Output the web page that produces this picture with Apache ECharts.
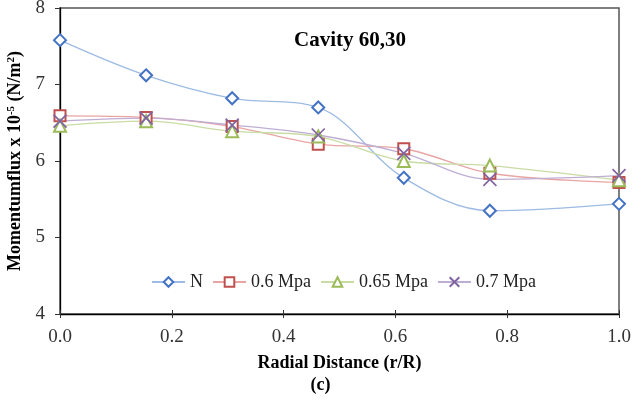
<!DOCTYPE html>
<html>
<head>
<meta charset="utf-8">
<script src="https://cdn.jsdelivr.net/npm/echarts@6/dist/echarts.min.js"></script>
<style>
  html, body { margin: 0; padding: 0; background: #fff; }
  #chart { width: 641px; height: 400px; }
</style>
</head>
<body>
<div id="chart"></div>
<script>
// radial positions r/R
const radial = [0, 0.154, 0.308, 0.462, 0.615, 0.769, 1.0]
const seriesNames = ['N', '0.6 Mpa', '0.65 Mpa', '0.7 Mpa']
const valuesN = [7.58, 7.12, 6.82, 6.70, 5.78, 5.35, 5.44]
const values06 = [6.59, 6.57, 6.45, 6.22, 6.16, 5.84, 5.72]
const values065 = [6.46, 6.52, 6.39, 6.32, 6.00, 5.94, 5.75]
const values07 = [6.52, 6.56, 6.47, 6.34, 6.10, 5.76, 5.81]

const pairs = vals => radial.map((r, i) => [r, vals[i]])
const font = '"Liberation Serif", "Times New Roman", serif'

const chart = echarts.init(document.getElementById('chart'))

const mkSeries = (name, vals, symbol, markColor, lineColor, size) => ({
  name,
  type: 'line',
  data: pairs(vals),
  smooth: 0.35,
  symbol,
  symbolSize: size,
  showAllSymbol: true,
  itemStyle: { color: markColor, borderColor: markColor, borderWidth: 1.7 },
  lineStyle: { color: lineColor, width: 1.3 },
  emphasis: { disabled: true }
})

const crossPath = 'path://M0,0L10,10M10,0L0,10'

chart.setOption({
  animation: false,
  title: {
    text: 'Cavity 60,30',
    left: 289,
    top: 25,
    textStyle: { fontFamily: font, fontSize: 21, fontWeight: 'bold', color: '#000' }
  },
  legend: {
    top: 268,
    left: 146,
    itemWidth: 33,
    itemHeight: 12,
    itemGap: 9,
    data: seriesNames,
    textStyle: { fontFamily: font, fontSize: 18, color: '#222' }
  },
  grid: {
    left: 60, right: 22, top: 8, bottom: 86,
    outerBoundsMode: 'none',
    containLabel: false,
    show: true, borderColor: '#555', borderWidth: 1.5
  },
  xAxis: [{
    type: 'value',
    min: 0, max: 1, interval: 0.2,
    name: 'Radial Distance (r/R)',
    nameLocation: 'middle',
    nameGap: 40,
    nameTextStyle: { fontFamily: font, fontSize: 18, fontWeight: 'bold', color: '#000' },
    axisLine: { show: true, lineStyle: { color: '#000', width: 1.3 } },
    axisTick: { show: true, length: 4, lineStyle: { color: '#333' } },
    axisLabel: { fontFamily: font, fontSize: 19, color: '#333', margin: 14, formatter: v => v.toFixed(1) },
    splitLine: { show: false }
  }, {
    type: 'value',
    position: 'bottom',
    min: 0, max: 1, interval: 0.2,
    axisLine: { show: false },
    axisTick: { show: true, inside: true, length: 4, lineStyle: { color: '#333' } },
    axisLabel: { show: false },
    splitLine: { show: false }
  }],
  yAxis: {
    type: 'value',
    min: 4, max: 8, interval: 1,
    name: '{b|Momentumflux x 10}{s|-5}{b| (N/m}{s|2}{b|)}',
    nameLocation: 'middle',
    nameGap: 31,
    nameTextStyle: {
      rich: {
        b: { fontFamily: font, fontSize: 18, fontWeight: 'bold', color: '#000' },
        s: { fontFamily: font, fontSize: 11, fontWeight: 'bold', color: '#000', verticalAlign: 'top', padding: [0, 0, 9, 0] }
      }
    },
    axisLine: { show: true, lineStyle: { color: '#000', width: 1.3 } },
    axisTick: { show: true, length: 5, lineStyle: { color: '#333' } },
    axisLabel: { fontFamily: font, fontSize: 19, color: '#333', margin: 15 },
    splitLine: { show: false }
  },
  graphic: [{
    type: 'text',
    left: 'center',
    top: 376,
    style: { text: '(c)', fontFamily: font, fontSize: 18, fontWeight: 'bold', fill: '#000' }
  }],
  series: [
    mkSeries('N', valuesN, 'emptyDiamond', '#4472c4', '#9dbbe3', 12),
    mkSeries('0.6 Mpa', values06, 'emptyRect', '#c0504d', '#e8a5a3', 11),
    mkSeries('0.65 Mpa', values065, 'emptyTriangle', '#9bbb59', '#c8dca4', 12),
    mkSeries('0.7 Mpa', values07, crossPath, '#8064a2', '#bfaed4', 13)
  ]
})
</script>
</body>
</html>
